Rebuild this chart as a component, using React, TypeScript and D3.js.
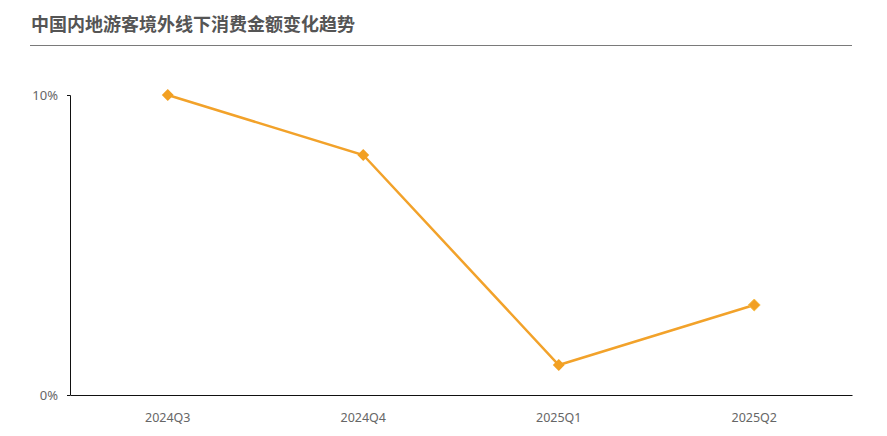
import React, { useEffect, useRef } from 'react';
import * as d3 from 'd3';

const quarters = ['2024Q3', '2024Q4', '2025Q1', '2025Q2'];
const changeRates = [10, 8, 1, 3];
const yTicks = [0, 10];
const title = '中国内地游客境外线下消费金额变化趋势';

const W = 887;
const H = 436;

const App: React.FC = () => {
  const svgRef = useRef<SVGSVGElement | null>(null);

  useEffect(() => {
    if (!svgRef.current) return;
    const root = d3.select(svgRef.current);
    root.selectAll('*').remove();

    const margin = { top: 95, right: 35, bottom: 41, left: 70 };
    const width = W - margin.left - margin.right;
    const height = H - margin.top - margin.bottom;

    // title + rule
    root.append('text')
      .attr('x', 31)
      .attr('y', 31)
      .style('font-family', '"Noto Sans CJK SC", sans-serif')
      .style('font-size', '18px')
      .style('font-weight', 'bold')
      .style('fill', '#555')
      .text(title);

    root.append('line')
      .attr('x1', 30)
      .attr('x2', 852)
      .attr('y1', 45.5)
      .attr('y2', 45.5)
      .attr('stroke', '#7a7a7a')
      .attr('stroke-width', 1.2);

    const g = root.append('g')
      .attr('transform', `translate(${margin.left},${margin.top})`);

    const x = d3.scaleBand()
      .domain(quarters)
      .range([0, width]);

    const y = d3.scaleLinear()
      .domain([0, 10])
      .range([height, 0]);

    // y axis
    const yAxis = g.append('g')
      .call(d3.axisLeft(y).tickValues(yTicks).tickFormat(d => `${d}%`).tickSize(3).tickPadding(9));
    yAxis.select('.domain').attr('stroke', '#111').attr('d', `M-3,0.5H0.5V${height + 0.5}`);
    yAxis.selectAll('.tick line').attr('stroke', '#111');
    yAxis.selectAll('text')
      .style('font-family', '"Noto Sans", sans-serif')
      .style('font-size', '13px')
      .style('fill', '#666');

    // x axis
    const xAxis = g.append('g')
      .attr('transform', `translate(0,${height})`)
      .call(d3.axisBottom(x).tickSize(0).tickPadding(18));
    xAxis.select('.domain').attr('stroke', '#111').attr('stroke-width', 1.2);
    xAxis.selectAll('text')
      .style('font-family', '"Noto Sans", sans-serif')
      .style('font-size', '12.5px')
      .style('fill', '#666');

    const data = quarters.map((q, i) => ({ q, v: changeRates[i] }));
    const cx = (q: string) => (x(q) ?? 0) + x.bandwidth() / 2;

    const line = d3.line<{ q: string; v: number }>()
      .x(d => cx(d.q))
      .y(d => y(d.v));

    g.append('path')
      .datum(data)
      .attr('d', line)
      .attr('fill', 'none')
      .attr('stroke', '#F2A22A')
      .attr('stroke-width', 2.5);

    g.selectAll('.pt')
      .data(data)
      .enter().append('path')
      .attr('class', 'pt')
      .attr('d', d3.symbol().type(d3.symbolDiamond2).size(90))
      .attr('transform', d => `translate(${cx(d.q)},${y(d.v)})`)
      .attr('fill', '#F2A022')
      .attr('stroke', (_, i) => (i === 3 ? '#F7C04A' : 'none'))
      .attr('stroke-width', 1);
  }, []);

  return (
    <div style={{ position: 'absolute', left: 0, top: 0, width: W, height: H, background: '#fff' }}>
      <svg ref={svgRef} width={W} height={H} style={{ display: 'block' }} />
    </div>
  );
};

export default App;
